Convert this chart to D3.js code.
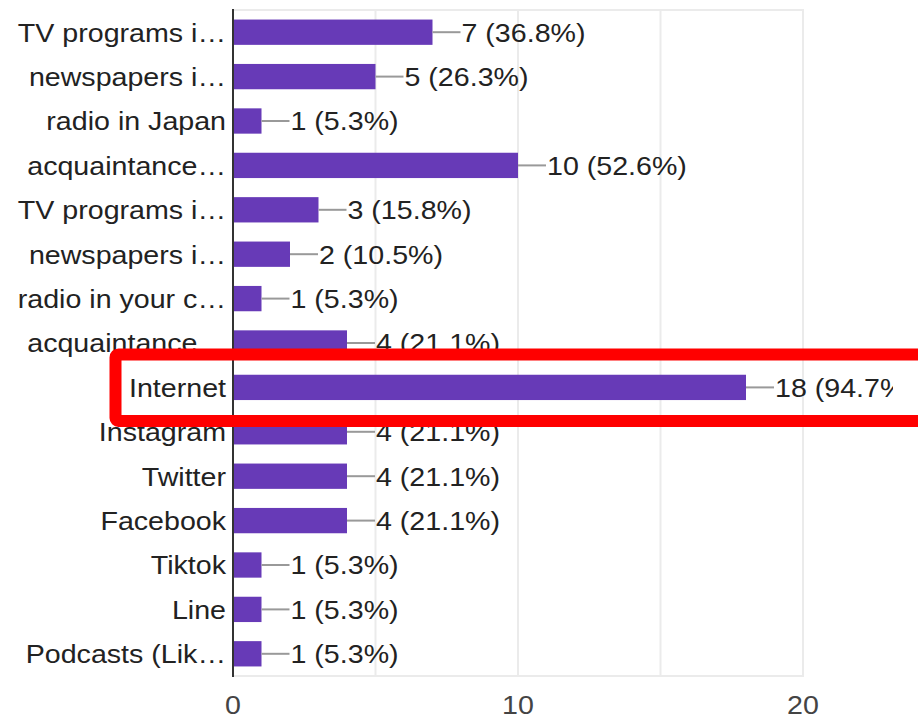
<!DOCTYPE html>
<html><head><meta charset="utf-8">
<script src="https://cdn.jsdelivr.net/npm/d3@7"></script>
<style>html,body{margin:0;padding:0;background:#fff;}svg{display:block;}</style>
</head><body>
<script>
const categories = ["TV programs i…","newspapers i…","radio in Japan","acquaintance…","TV programs i…","newspapers i…","radio in your c…","acquaintance…","Internet","Instagram","Twitter","Facebook","Tiktok","Line","Podcasts (Lik…"];
const counts = [7,5,1,10,3,2,1,4,18,4,4,4,1,1,1];
const percents = ["36.8%","26.3%","5.3%","52.6%","15.8%","10.5%","5.3%","21.1%","94.7%","21.1%","21.1%","21.1%","5.3%","5.3%","5.3%"];
const gridTicks = [0,5,10,15,20];
const tickLabels = [0,10,20];
const highlightIndex = 8;

const W = 918, H = 720;
const FS = 26, SX = 1.1;
const font = "'Liberation Sans', Arial, sans-serif";
const svg = d3.select("body").append("svg").attr("width", W).attr("height", H);

const x = d3.scaleLinear().domain([0,20]).range([233,803]);
const y = d3.scaleBand().domain(d3.range(categories.length)).range([10,676]).paddingInner(0.43).paddingOuter(0.215);

svg.append("defs").append("clipPath").attr("id","clip").append("rect").attr("x",0).attr("y",0).attr("width",893).attr("height",H);

// grid
svg.append("g").selectAll("line").data(gridTicks.filter(d=>d>0)).join("line")
  .attr("x1",d=>x(d)).attr("x2",d=>x(d)).attr("y1",10).attr("y2",676)
  .attr("stroke","#ebebeb").attr("stroke-width",2);
svg.append("g").selectAll("line").data([10,676]).join("line")
  .attr("x1",233).attr("x2",x(20)+1).attr("y1",d=>d).attr("y2",d=>d)
  .attr("stroke","#ebebeb").attr("stroke-width",2);

// bars
svg.append("g").selectAll("rect").data(counts).join("rect")
  .attr("x",x(0)).attr("y",(d,i)=>y(i)).attr("width",d=>x(d)-x(0)).attr("height",y.bandwidth())
  .attr("fill","#673ab7");

// leader lines + value labels
const vg = svg.append("g").attr("clip-path","url(#clip)");
vg.selectAll("line").data(counts).join("line")
  .attr("x1",d=>x(d)).attr("x2",d=>x(d)+28)
  .attr("y1",(d,i)=>y(i)+y.bandwidth()/2).attr("y2",(d,i)=>y(i)+y.bandwidth()/2)
  .attr("stroke","#999").attr("stroke-width",2);
vg.selectAll("text").data(counts).join("text")
  .attr("transform",(d,i)=>`translate(${x(d)+29},${y(i)+y.bandwidth()/2}) scale(${SX},1)`)
  .attr("dy","0.36em").attr("font-family",font).attr("font-size",FS).attr("fill","#222")
  .text((d,i)=>`${d} (${percents[i]})`);

// category labels
svg.append("g").selectAll("text").data(categories).join("text")
  .attr("transform",(d,i)=>`translate(226,${y(i)+y.bandwidth()/2}) scale(${SX},1)`)
  .attr("dy","0.36em").attr("text-anchor","end").attr("font-family",font).attr("font-size",FS).attr("fill","#222")
  .text(d=>d);

// y axis line
svg.append("line").attr("x1",233).attr("x2",233).attr("y1",9).attr("y2",677).attr("stroke","#333").attr("stroke-width",2);

// x tick labels
svg.append("g").selectAll("text").data(tickLabels).join("text")
  .attr("transform",d=>`translate(${x(d)},${705}) scale(${SX},1)`)
  .attr("dy","0.36em").attr("text-anchor","middle").attr("font-family",font).attr("font-size",FS).attr("fill","#444")
  .text(d=>d);

// highlight rectangle
svg.append("rect")
  .attr("x",115.5).attr("y",y(highlightIndex)+y.bandwidth()/2-33).attr("width",860).attr("height",66.5)
  .attr("rx",3).attr("fill","none").attr("stroke","#ff0000").attr("stroke-width",12);
</script>
</body></html>
